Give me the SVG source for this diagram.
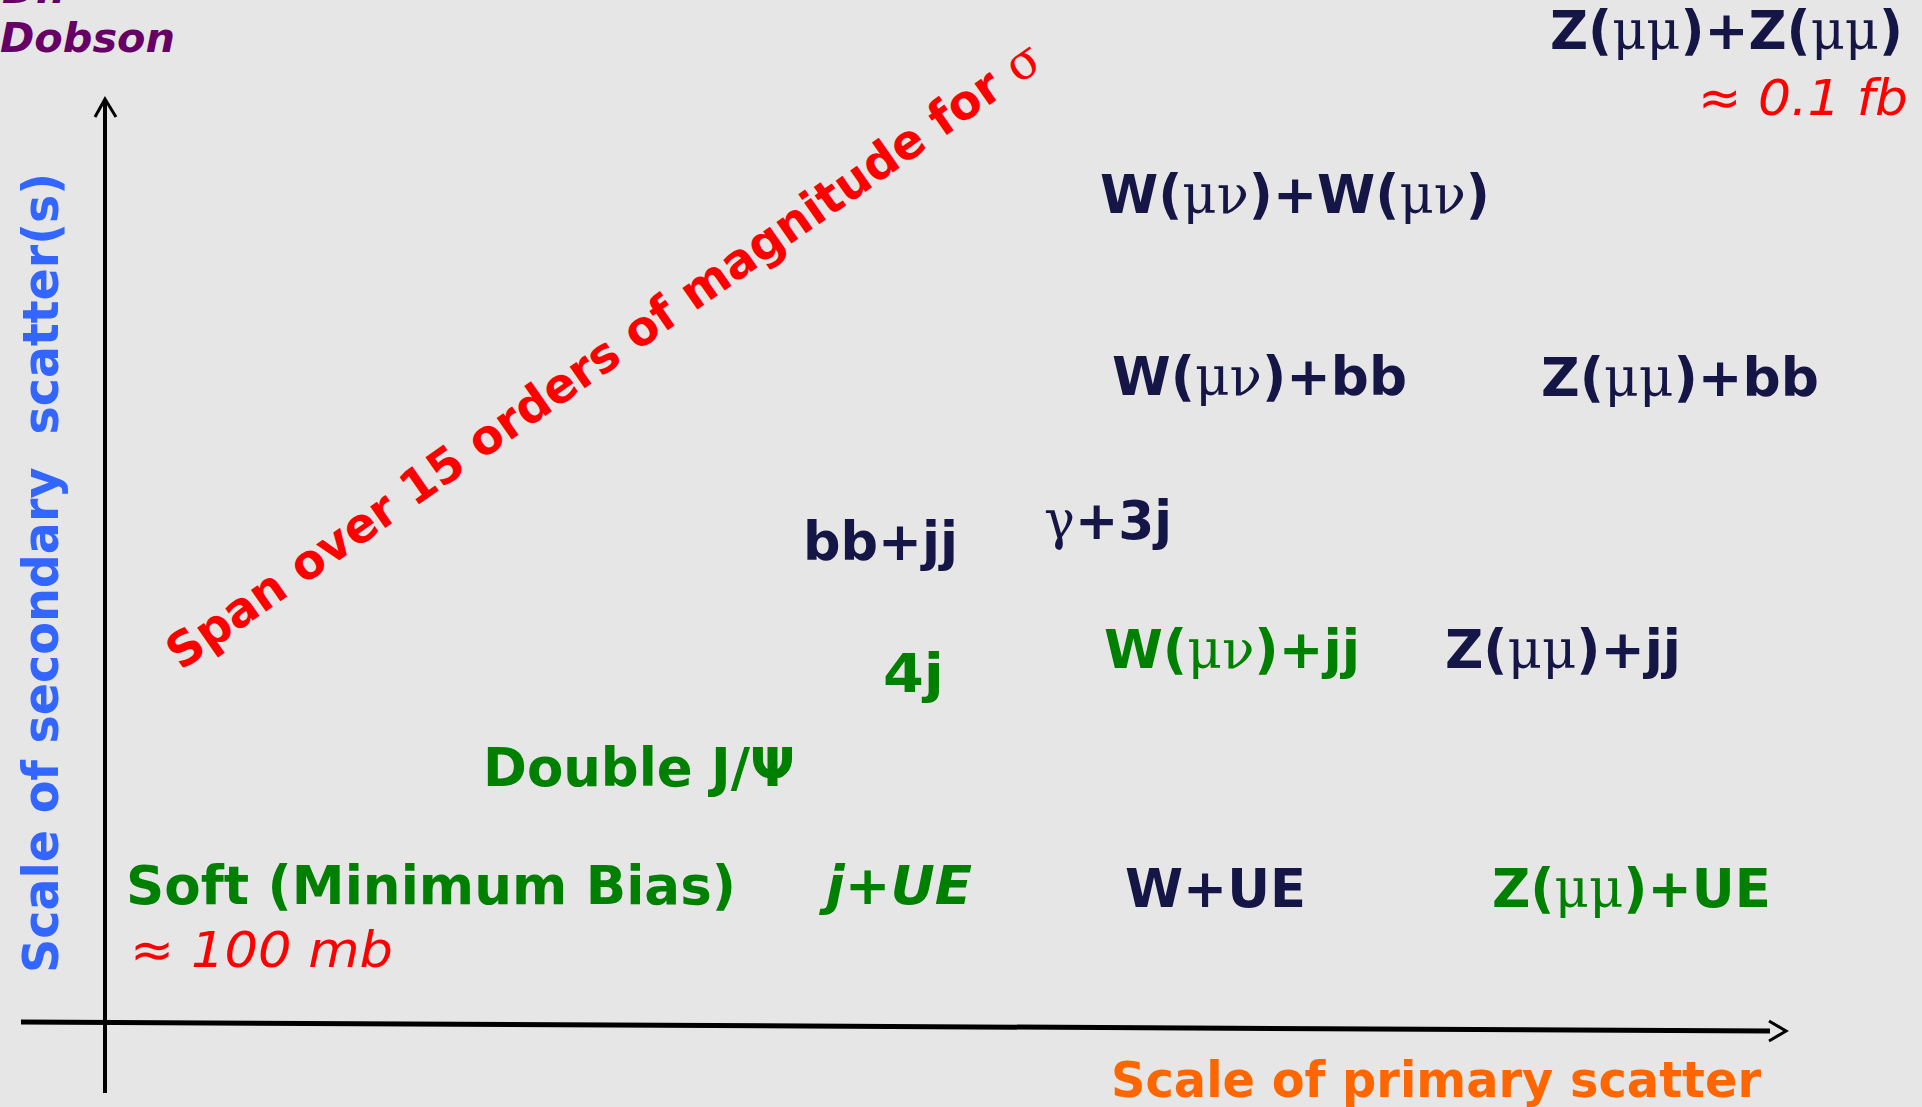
<svg xmlns="http://www.w3.org/2000/svg" width="1922" height="1107" viewBox="0 0 1922 1107">
<defs>
<style>
text { font-family: "DejaVu Sans", "Liberation Sans", sans-serif; font-weight: bold; white-space: pre; }
.navy { fill: #161646; font-size: 54px; }
.green { fill: #008000; font-size: 54px; }
.red { fill: #ff0000; font-size: 50px; font-style: italic; font-weight: normal; }
.greek { font-family: "DejaVu Serif", "Liberation Serif", serif; font-weight: normal; }
.purple { fill: #660066; font-size: 41px; font-style: italic; }
.axis { stroke: #000; fill: none; stroke-linecap: butt; }
.arrow { stroke: #000; fill: none; stroke-width: 3; }
</style>
</defs>
<rect x="0" y="0" width="1922" height="1107" fill="#e6e6e6"/>

<g id="connectors">
  <line class="axis" x1="105" y1="100" x2="105" y2="1093" stroke-width="4"/>
  <polyline class="arrow" points="95,117 105,99 116,117"/>
  <line class="axis" x1="21" y1="1022" x2="1770" y2="1031" stroke-width="5"/>
  <polyline class="arrow" points="1769,1021 1786,1031 1769,1041"/>
</g>

<g id="author">
  <text class="purple" x="2" y="3">Dr.</text>
  <text class="purple" x="0" y="52" textLength="175" lengthAdjust="spacingAndGlyphs">Dobson</text>
</g>

<g id="zz">
  <text class="navy" x="1550" y="49" font-size="52" textLength="353" lengthAdjust="spacingAndGlyphs">Z(<tspan class="greek">μμ</tspan>)+Z(<tspan class="greek">μμ</tspan>)</text>
  <text class="red" x="1698" y="115" textLength="210" lengthAdjust="spacingAndGlyphs">≈ 0.1 fb</text>
</g>

<g id="ww">
  <text class="navy" x="1100" y="213" textLength="390" lengthAdjust="spacingAndGlyphs">W(<tspan class="greek">μν</tspan>)+W(<tspan class="greek">μν</tspan>)</text>
</g>

<g id="wbb">
  <text class="navy" x="1112" y="395" textLength="295" lengthAdjust="spacingAndGlyphs">W(<tspan class="greek">μν</tspan>)+bb</text>
</g>

<g id="zbb">
  <text class="navy" x="1541" y="396" textLength="278" lengthAdjust="spacingAndGlyphs">Z(<tspan class="greek">μμ</tspan>)+bb</text>
</g>

<g id="bbjj">
  <text class="navy" x="803" y="560" textLength="155" lengthAdjust="spacingAndGlyphs">bb+jj</text>
</g>

<g id="gamma3j">
  <text class="navy" x="1044" y="539" textLength="128" lengthAdjust="spacingAndGlyphs"><tspan class="greek">γ</tspan>+3j</text>
</g>

<g id="fourj">
  <text class="green" x="883" y="692" font-size="68" textLength="61" lengthAdjust="spacingAndGlyphs">4j</text>
</g>

<g id="wjj">
  <text class="green" x="1104" y="668" textLength="256" lengthAdjust="spacingAndGlyphs">W(<tspan class="greek">μν</tspan>)+jj</text>
</g>

<g id="zjj">
  <text class="navy" x="1445" y="668" textLength="236" lengthAdjust="spacingAndGlyphs">Z(<tspan class="greek">μμ</tspan>)+jj</text>
</g>

<g id="doublejpsi">
  <text class="green" x="483" y="786" textLength="312" lengthAdjust="spacingAndGlyphs">Double J/Ψ</text>
</g>

<g id="soft">
  <text class="green" x="126" y="904" textLength="610" lengthAdjust="spacingAndGlyphs">Soft (Minimum Bias)</text>
  <text class="red" x="130" y="967" textLength="263" lengthAdjust="spacingAndGlyphs">≈ 100 mb</text>
</g>

<g id="jue">
  <text class="green" x="826" y="904" font-style="italic" textLength="146" lengthAdjust="spacingAndGlyphs">j+UE</text>
</g>

<g id="wue">
  <text class="navy" x="1125" y="907" textLength="181" lengthAdjust="spacingAndGlyphs">W+UE</text>
</g>

<g id="zue">
  <text class="green" x="1492" y="907" textLength="279" lengthAdjust="spacingAndGlyphs">Z(<tspan class="greek">μμ</tspan>)+UE</text>
</g>

<g id="xlabel">
  <text x="1111" y="1097" fill="#ff6600" font-size="50" textLength="650" lengthAdjust="spacingAndGlyphs">Scale of primary scatter</text>
</g>

<g id="ylabel">
  <text transform="translate(58,973) rotate(-90)" x="0" y="0" fill="#3366ff" font-size="50" textLength="800" lengthAdjust="spacingAndGlyphs">Scale of secondary  scatter(s)</text>
</g>

<g id="span">
  <text transform="translate(181,671) rotate(-35)" x="0" y="0" fill="#ff0000" font-size="48" textLength="1055" lengthAdjust="spacingAndGlyphs">Span over 15 orders of magnitude for <tspan class="greek">σ</tspan></text>
</g>
</svg>
